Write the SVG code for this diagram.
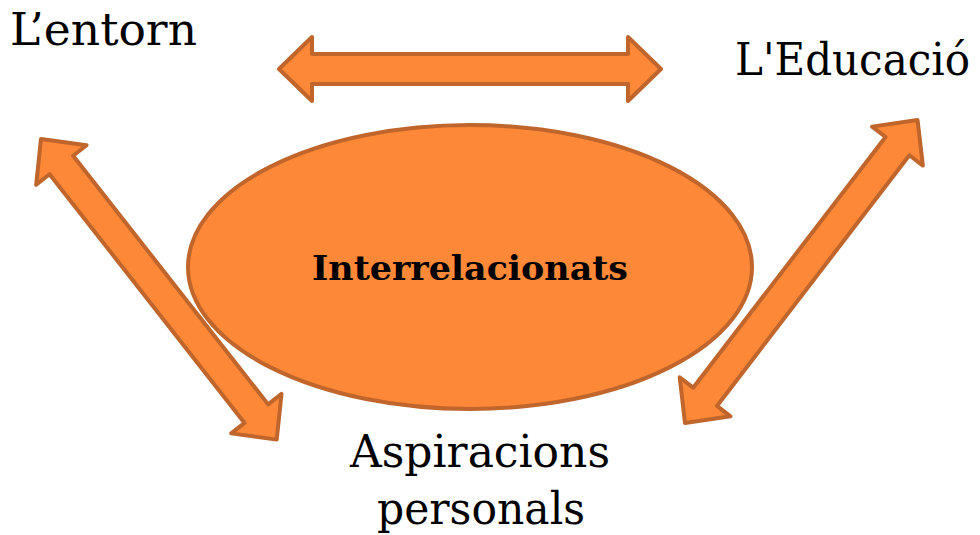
<svg xmlns="http://www.w3.org/2000/svg" xmlns:xlink="http://www.w3.org/1999/xlink" width="980" height="535" viewBox="0 0 980 535">
  <style>
    .shape { fill: #FD8838; stroke: #C0652B; stroke-width: 4; stroke-linejoin: round; }
    .lbl { font-family: "DejaVu Serif", "Liberation Serif", serif; font-size: 44px; fill: #000; }
    .center { font-family: "DejaVu Serif", "Liberation Serif", serif; font-size: 33px; font-weight: bold; fill: #000; }
  </style>
  <defs>
    <path id="dblArrow" d="M0,0 L33,-32 L33,-15 L349,-15 L349,-32 L382,0 L349,32 L349,15 L33,15 L33,32 Z"/>
  </defs>
  <rect width="980" height="535" fill="#FFFFFF"/>
  <g id="connectors">
    <use xlink:href="#dblArrow" class="shape" transform="translate(279,69)"/>
    <use xlink:href="#dblArrow" class="shape" transform="translate(41,139) rotate(51.9)"/>
    <use xlink:href="#dblArrow" class="shape" transform="translate(685,423) rotate(-52.5)"/>
  </g>
  <g id="center-node">
    <ellipse class="shape" cx="470" cy="267" rx="282" ry="142"/>
    <text class="center" x="470" y="280" text-anchor="middle" textLength="316" lengthAdjust="spacingAndGlyphs">Interrelacionats</text>
  </g>
  <g id="entorn">
    <text class="lbl" x="10" y="45" textLength="187" lengthAdjust="spacingAndGlyphs">L’entorn</text>
  </g>
  <g id="educacio">
    <text class="lbl" x="735" y="75" textLength="235" lengthAdjust="spacingAndGlyphs">L'Educació</text>
  </g>
  <g id="aspiracions">
    <text class="lbl" x="480" y="467" text-anchor="middle" textLength="260" lengthAdjust="spacingAndGlyphs">Aspiracions</text>
    <text class="lbl" x="481" y="524" text-anchor="middle" textLength="208" lengthAdjust="spacingAndGlyphs">personals</text>
  </g>
</svg>
